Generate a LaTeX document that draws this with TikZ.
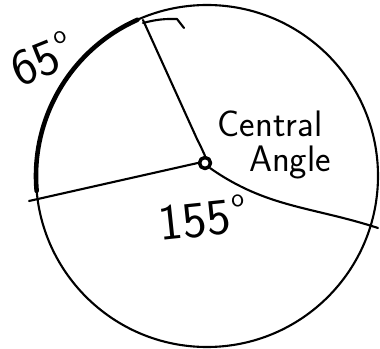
\documentclass[tikz,border=0pt]{standalone}
\usetikzlibrary{positioning,calc}

\newcommand{\degmark}{\kern1.5pt\raisebox{0.5em}{\fontsize{15}{15}\selectfont o}}

\begin{document}
\begin{tikzpicture}[
    % Styles
    x=0.02cm, y=0.02cm,
    line cap=round,
    line join=round,
    rim/.style={draw=black, line width=1.2pt},
    spoke/.style={draw=black, line width=1.2pt},
    arcmark/.style={draw=black, line width=2.6pt},
    hub/.style={
        circle,
        draw=black,
        line width=2pt,
        fill=white,
        minimum size=0.22cm,
        inner sep=0pt
    },
    hand/.style={
        font=\sffamily\fontsize{21}{24}\selectfont,
        inner sep=0pt
    },
    handbig/.style={
        hand,
        font=\sffamily\fontsize{29}{32}\selectfont
    }
]
\useasboundingbox (0,0) rectangle (380,349);

% --- CIRCLE ---
\coordinate (O) at (207,173);
\draw[rim] (O) circle[radius=171];

% 65 degree arc (thick stroke over the rim)
\draw[arcmark] (O) ++(185:171) arc[start angle=185, end angle=114, radius=171];

% small tail where the pen overshot at the top
\coordinate (tailA) at (143,326);
\coordinate (tailB) at (177,330);
\coordinate (tailC) at (184,321);
\draw[rim] (tailA) to[bend left=8] (tailB) -- (tailC);

% --- RADII ---
\node[hub] (hub) at (205,186) {};
\coordinate (topend) at (143,329);
\coordinate (topbend) at (197,210);
\coordinate (leftend) at (29,148);
\coordinate (rightend) at (378,121);

\draw[spoke] (hub.north) to[out=115, in=-62] (topbend) -- (topend);
\draw[spoke] (hub.west) -- (leftend);
\draw[spoke] (hub.south east) to[out=-35, in=162] (rightend);

% --- LABELS ---
\node[handbig, rotate=22] (arclbl) at (42,290) {65\degmark};
\node[hand] (centrallbl) at (270,225) {Central};
\node[hand] (anglelbl) at (290,187) {Angle};
\node[handbig, rotate=6] (anglevalue) at (202,131) {155\degmark};

\end{tikzpicture}
\end{document}
